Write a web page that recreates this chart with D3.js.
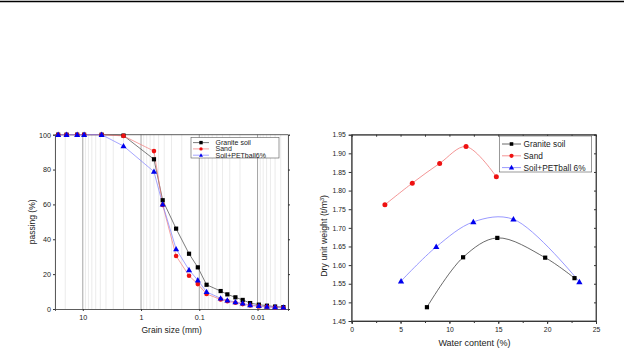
<!DOCTYPE html>
<html><head><meta charset="utf-8">
<script src="https://cdn.jsdelivr.net/npm/d3@7"></script>
<style>body{margin:0;background:#fff}svg{display:block;font-family:"Liberation Sans",Arial,sans-serif}</style>
</head><body><svg id="c" width="624" height="349"></svg>
<script>
// ---- Left chart: grain size distribution ----
const grainSizes = [26.5, 19, 12.5, 9.5, 4.75, 2.0, 0.6, 0.425, 0.25, 0.15, 0.106, 0.075, 0.043, 0.033, 0.024, 0.018, 0.0134, 0.0095, 0.0069, 0.005, 0.0036];
const passGranite = [100,100,100,100,100,99.5,85.9,62.4,46.1,31.7,23.9,13.9,10.3,8.4,6.7,5.2,3.4,2.5,1.9,1.4,1.1];
const passSand    = [100,100,100,100,100,99.3,90.6,59.7,30.4,19.1,14.3,8.6,5.5,4.5,3.6,2.8,2.0,1.5,1.2,0.9,0.7];
const passPet     = [100,100,100,100,100,93.5,78.8,60.0,34.4,22.4,16.5,9.8,6.1,5.0,4.0,3.2,2.3,1.8,1.4,1.1,0.9];
const leftYTicks = [0,20,40,60,80,100];
const leftXTicks = [10,1,0.1,0.01];
const leftXLabels = ["10","1","0.1","0.01"];
const leftLegend = ["Granite soil","Sand","Soil+PETball6%"];

// ---- Right chart: compaction curves ----
const wGranite = [7.7, 11.4, 14.9, 19.8, 22.8];
const dGranite = [1.487, 1.621, 1.673, 1.620, 1.565];
const wSand = [3.4, 6.2, 9.0, 11.7, 14.8];
const dSand = [1.762, 1.820, 1.873, 1.918, 1.837];
const wPet = [5.05, 8.65, 12.45, 16.55, 23.3];
const dPet = [1.557, 1.649, 1.716, 1.723, 1.555];
const rightXTicks = [0,5,10,15,20,25];
const rightYTicks = [1.45,1.50,1.55,1.60,1.65,1.70,1.75,1.80,1.85,1.90,1.95];
const rightLegend = ["Granite soil","Sand","Soil+PETball 6%"];

const svg = d3.select("#c");
const txt = "#222";

// top rule
svg.append("line").attr("x1",0).attr("x2",624).attr("y1",1.5).attr("y2",1.5).attr("stroke","#000").attr("stroke-width",1.6);

const colors = {k:{mark:"#000",line:"#444"}, r:{mark:"#ee1111",line:"#f07a7a"}, b:{mark:"#0000ee",line:"#7f7fff"}};
function marker(g, type, x, y, s, fill){
  if(type==="sq") g.append("rect").attr("x",x-s/2).attr("y",y-s/2).attr("width",s).attr("height",s).attr("fill",fill);
  else if(type==="ci") g.append("circle").attr("cx",x).attr("cy",y).attr("r",s/2).attr("fill",fill);
  else g.append("path").attr("d",`M${x},${y-s*0.6}L${x+s*0.58},${y+s*0.42}L${x-s*0.58},${y+s*0.42}Z`).attr("fill",fill);
}

// ===== LEFT =====
const L = {x0:55, x1:288, y0:134.7, y1:309};
const xL = d3.scaleLog().domain([30,0.003]).range([L.x0,L.x1]);
const yL = d3.scaleLinear().domain([0,100]).range([L.y1,L.y0]);
const gL = svg.append("g");
// grid
for(let d=-3; d<=1; d++){
  for(let m=1; m<=9; m++){
    const v = m*Math.pow(10,d);
    if(v>30 || v<0.003) continue;
    gL.append("line").attr("x1",xL(v)).attr("x2",xL(v)).attr("y1",L.y0).attr("y2",L.y1)
      .attr("stroke", m===1?"#9a9a9a":"#dedede").attr("stroke-width", m===1?0.9:0.6);
  }
}
gL.append("g").attr("transform",`translate(0,${L.y1})`)
  .call(d3.axisBottom(xL).tickValues(leftXTicks).tickFormat((d,i)=>leftXLabels[i]).tickSize(2).tickPadding(4));
gL.append("g").attr("transform",`translate(${L.x0},0)`)
  .call(d3.axisLeft(yL).tickValues(leftYTicks).tickSize(2).tickPadding(2));
gL.append("g").attr("transform",`translate(${L.x1},0)`)
  .call(d3.axisRight(yL).tickValues(leftYTicks).tickSize(2).tickFormat(""));
gL.append("line").attr("x1",L.x0).attr("x2",L.x1).attr("y1",L.y0).attr("y2",L.y0).attr("stroke","#333").attr("stroke-width",0.8);
gL.selectAll(".domain").attr("stroke","#333").attr("stroke-width",0.8);
gL.selectAll(".tick line").attr("stroke","#333");
gL.selectAll(".tick text").attr("font-size",7.2).attr("fill",txt).attr("font-family","Liberation Sans, Arial");
gL.append("text").attr("x",171.7).attr("y",333).attr("text-anchor","middle").attr("font-size",8.5).attr("fill",txt).text("Grain size (mm)");
gL.append("text").attr("transform",`translate(35,${(L.y0+L.y1)/2}) rotate(-90)`).attr("text-anchor","middle").attr("font-size",8.5).attr("fill",txt).text("passing (%)");

const leftSeries = [
  {v:passGranite, c:colors.k, t:"sq", s:4.2},
  {v:passSand, c:colors.r, t:"ci", s:4.6},
  {v:passPet, c:colors.b, t:"tr", s:5.2}
];
const lineL = d3.line().x(d=>xL(d[0])).y(d=>yL(d[1]));
leftSeries.forEach(s=>{
  const pts = grainSizes.map((g,i)=>[g,s.v[i]]);
  gL.append("path").attr("d",lineL(pts)).attr("fill","none").attr("stroke",s.c.line).attr("stroke-width",0.7);
});
leftSeries.forEach(s=>{
  grainSizes.forEach((g,i)=>marker(gL,s.t,xL(g),yL(s.v[i]),s.s,s.c.mark));
});
// legend left
const lgL = gL.append("g");
lgL.append("rect").attr("x",191).attr("y",137.5).attr("width",88).attr("height",20.5).attr("fill","#fff").attr("stroke","#555").attr("stroke-width",0.6);
leftLegend.forEach((n,i)=>{
  const y = 142.6 + i*6.3;
  const s = leftSeries[i];
  lgL.append("line").attr("x1",193).attr("x2",209).attr("y1",y).attr("y2",y).attr("stroke",s.c.line).attr("stroke-width",0.7);
  marker(lgL,s.t,201,y,3.4,s.c.mark);
  lgL.append("text").attr("x",215.5).attr("y",y+2.4).attr("font-size",7).attr("fill",txt).text(n);
});

// ===== RIGHT =====
const R = {x0:351.7, x1:596, y0:134.7, y1:321};
const xR = d3.scaleLinear().domain([0,25]).range([R.x0,R.x1]);
const yR = d3.scaleLinear().domain([1.45,1.95]).range([R.y1,R.y0]);
const gR = svg.append("g");
gR.append("rect").attr("x",R.x0).attr("y",R.y0).attr("width",R.x1-R.x0).attr("height",R.y1-R.y0).attr("fill","none").attr("stroke","#333").attr("stroke-width",0.8);
const minorX = d3.range(0,25.01,2.5);
gR.append("g").attr("transform",`translate(0,${R.y1})`).call(d3.axisBottom(xR).tickValues(minorX).tickSize(2).tickFormat(""));
gR.append("g").attr("transform",`translate(0,${R.y1})`).call(d3.axisBottom(xR).tickValues(rightXTicks).tickSize(3).tickPadding(3).tickFormat(d3.format("d")));
gR.append("g").attr("transform",`translate(0,${R.y0})`).call(d3.axisBottom(xR).tickValues(minorX).tickSize(2).tickFormat(""));
gR.append("g").attr("transform",`translate(${R.x0},0)`).call(d3.axisLeft(yR).tickValues(rightYTicks).tickSize(3).tickPadding(3).tickFormat(d3.format(".2f")));
gR.append("g").attr("transform",`translate(${R.x1},0)`).call(d3.axisLeft(yR).tickValues(rightYTicks).tickSize(2).tickFormat(""));
gR.selectAll(".domain").attr("stroke","#333").attr("stroke-width",0.8);
gR.selectAll(".tick line").attr("stroke","#333");
gR.selectAll(".tick text").attr("font-size",6.8).attr("fill",txt).attr("font-family","Liberation Sans, Arial");
gR.append("text").attr("x",474.5).attr("y",346).attr("text-anchor","middle").attr("font-size",9).attr("fill",txt).text("Water content (%)");
const yl = gR.append("text").attr("transform",`translate(327,${(R.y0+R.y1)/2+8}) rotate(-90)`).attr("text-anchor","middle").attr("font-size",8.8).attr("fill",txt);
yl.append("tspan").text("Dry unit weight (t/m");
yl.append("tspan").attr("font-size",5.5).attr("dy",-3).text("3");
yl.append("tspan").attr("dy",3).text(")");

const rightSeries = [
  {w:wGranite, d:dGranite, c:colors.k, t:"sq", s:4.2},
  {w:wSand, d:dSand, c:colors.r, t:"ci", s:5},
  {w:wPet, d:dPet, c:colors.b, t:"tr", s:5.4}
];
const lineR = d3.line().x(d=>xR(d[0])).y(d=>yR(d[1])).curve(d3.curveCatmullRom.alpha(0.5));
rightSeries.forEach(s=>{
  const pts = s.w.map((w,i)=>[w,s.d[i]]);
  gR.append("path").attr("d",lineR(pts)).attr("fill","none").attr("stroke",s.c.line).attr("stroke-width",0.8);
});
rightSeries.forEach(s=>{
  s.w.forEach((w,i)=>marker(gR,s.t,xR(w),yR(s.d[i]),s.s,s.c.mark));
});
const lgR = gR.append("g");
lgR.append("rect").attr("x",499.3).attr("y",136).attr("width",92.4).attr("height",36).attr("fill","#fff").attr("stroke","#555").attr("stroke-width",0.6);
rightLegend.forEach((n,i)=>{
  const y = 144 + i*11.8;
  const s = rightSeries[i];
  lgR.append("line").attr("x1",502).attr("x2",521).attr("y1",y).attr("y2",y).attr("stroke",s.c.line).attr("stroke-width",0.8);
  marker(lgR,s.t,511.5,y,s.s*0.85,s.c.mark);
  lgR.append("text").attr("x",523.5).attr("y",y+3).attr("font-size",8.3).attr("fill",txt).text(n);
});
</script></body></html>
